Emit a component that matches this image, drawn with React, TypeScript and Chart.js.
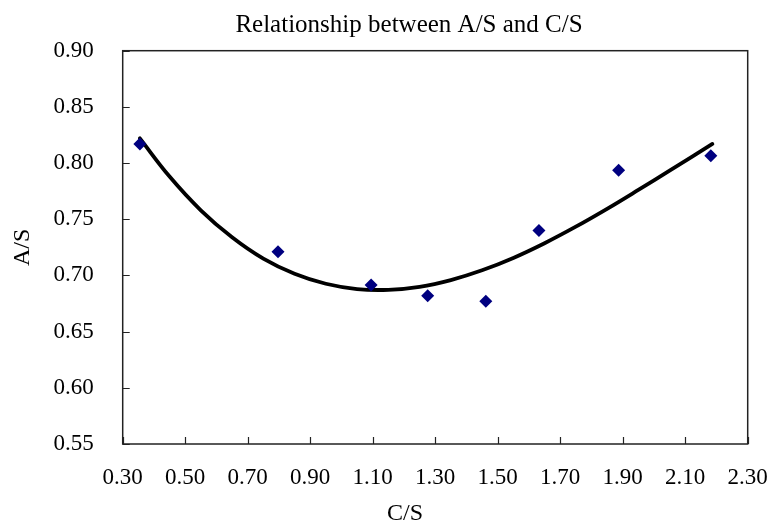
import React, { useEffect, useRef } from "react";
import { Chart, registerables } from "chart.js";

Chart.register(...registerables);

const chartTitle = "Relationship between A/S and C/S";
const xTitle = "C/S";
const yTitle = "A/S";

const xTickValues = [0.3, 0.5, 0.7, 0.9, 1.1, 1.3, 1.5, 1.7, 1.9, 2.1, 2.3];
const yTickValues = [0.55, 0.6, 0.65, 0.7, 0.75, 0.8, 0.85, 0.9];

// observed points
const pointX = [0.355, 0.797, 1.095, 1.276, 1.462, 1.632, 1.887, 2.182];
const pointY = [0.817, 0.721, 0.6915, 0.682, 0.677, 0.74, 0.7936, 0.8066];

// trend curve
const curveX = [0.355, 0.45, 0.55, 0.65, 0.75, 0.85, 0.95, 1.05, 1.15, 1.25, 1.35, 1.45, 1.55, 1.65, 1.75, 1.85, 1.95, 2.05, 2.187];
const curveY = [0.822, 0.788, 0.758, 0.734, 0.715, 0.7015, 0.6926, 0.6879, 0.6872, 0.6899, 0.6959, 0.7046, 0.7156, 0.7287, 0.7434, 0.7593, 0.7761, 0.7933, 0.817];

const FONT = "'Liberation Serif', 'Times New Roman', serif";

const framePlugin = {
  id: "frameAndTicks",
  afterDraw(chart: any) {
    const { ctx, chartArea } = chart;
    const xs = chart.scales.x;
    const ys = chart.scales.y;
    ctx.save();
    ctx.strokeStyle = "#222";
    ctx.lineWidth = 1.5;
    ctx.strokeRect(chartArea.left, chartArea.top, chartArea.right - chartArea.left, chartArea.bottom - chartArea.top);
    ctx.lineWidth = 1.2;
    ctx.beginPath();
    xs.ticks.forEach((t: any) => {
      const px = Math.round(xs.getPixelForValue(t.value)) + 0.5;
      ctx.moveTo(px, chartArea.bottom);
      ctx.lineTo(px, chartArea.bottom - 7);
    });
    ys.ticks.forEach((t: any) => {
      const py = Math.round(ys.getPixelForValue(t.value)) + 0.5;
      ctx.moveTo(chartArea.left, py);
      ctx.lineTo(chartArea.left + 7, py);
    });
    ctx.stroke();
    // titles
    ctx.fillStyle = "#000";
    ctx.textAlign = "center";
    ctx.textBaseline = "alphabetic";
    ctx.font = `25px ${FONT}`;
    ctx.fillText(chartTitle, 409, 31.5);
    ctx.font = `24px ${FONT}`;
    ctx.fillText(xTitle, 405, 519.5);
    ctx.restore();
  },
};

export default function App() {
  const ref = useRef<HTMLCanvasElement | null>(null);
  useEffect(() => {
    if (!ref.current) return;
    const chart = new Chart(ref.current, {
      type: "scatter",
      data: {
        datasets: [
          {
            label: "data",
            data: pointX.map((x, i) => ({ x, y: pointY[i] })),
            pointStyle: "rectRot",
            pointRadius: 6.5,
            backgroundColor: "#000080",
            borderColor: "#000080",
            borderWidth: 0,
            showLine: false,
          },
          {
            label: "trend",
            data: curveX.map((x, i) => ({ x, y: curveY[i] })),
            showLine: true,
            pointRadius: 0,
            borderColor: "#000",
            borderWidth: 3.8,
            tension: 0.4,
            borderCapStyle: "round",
            fill: false,
          },
        ],
      },
      options: {
        animation: false,
        responsive: true,
        maintainAspectRatio: false,
        layout: { padding: { left: 4, right: 23.3, top: 50.7, bottom: 0 } },
        plugins: {
          legend: { display: false },
          tooltip: { enabled: false },
          title: { display: false },
        },
        scales: {
          x: {
            type: "linear",
            min: 0.3,
            max: 2.3,
            afterBuildTicks: (s: any) => {
              s.ticks = xTickValues.map((v) => ({ value: v }));
            },
            afterFit: (s: any) => {
              s.height = 81;
              s.paddingLeft = 0;
              s.paddingRight = 0;
            },
            grid: { display: false, drawTicks: false },
            border: { display: false },
            ticks: {
              padding: 20,
              color: "#000",
              font: { family: FONT, size: 23 },
              callback: (v: any) => Number(v).toFixed(2),
              maxRotation: 0,
              autoSkip: false,
            },
          },
          y: {
            type: "linear",
            min: 0.55,
            max: 0.9,
            afterBuildTicks: (s: any) => {
              s.ticks = yTickValues.map((v) => ({ value: v }));
            },
            afterFit: (s: any) => {
              s.width = 118.7;
              s.paddingTop = 0;
              s.paddingBottom = 0;
            },
            grid: { display: false, drawTicks: false },
            border: { display: false },
            title: {
              display: true,
              text: yTitle,
              color: "#000",
              font: { family: FONT, size: 24 },
              padding: { top: 4, bottom: 4 },
            },
            ticks: {
              padding: 29,
              color: "#000",
              font: { family: FONT, size: 23 },
              callback: (v: any) => Number(v).toFixed(2),
              autoSkip: false,
            },
          },
        },
      },
      plugins: [framePlugin],
    });
    return () => chart.destroy();
  }, []);
  return (
    <div style={{ position: "fixed", left: 0, top: 0, width: 771, height: 525, background: "#fff" }}>
      <canvas ref={ref} />
    </div>
  );
}
